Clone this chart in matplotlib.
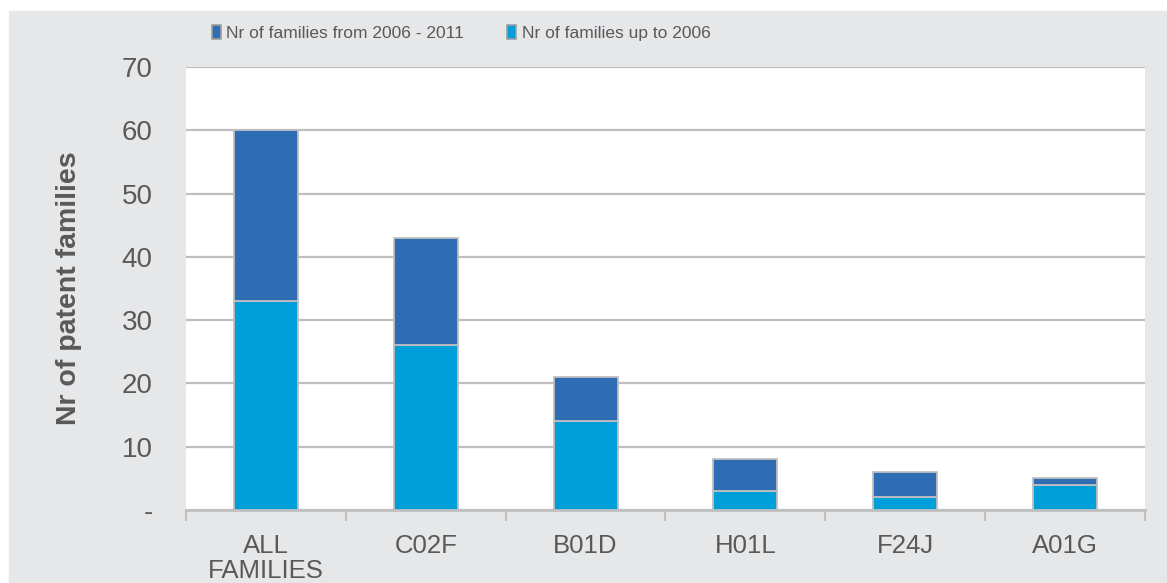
import matplotlib
matplotlib.use("Agg")
import matplotlib.pyplot as plt
import numpy as np
from matplotlib.patches import Rectangle

plt.rcParams["font.family"] = ["Liberation Sans", "DejaVu Sans"]

categories = ["ALL\nFAMILIES", "C02F", "B01D", "H01L", "F24J", "A01G"]
up_to_2006 = [33, 26, 14, 3, 2, 4]
from_2006_2011 = [27, 17, 7, 5, 4, 1]
y_ticks = [0, 10, 20, 30, 40, 50, 60, 70]
y_labels = ["-", "10", "20", "30", "40", "50", "60", "70"]

DARK = "#2E6DB4"
CYAN = "#009FDA"
GRID = "#BFBFBF"
PANEL = "#E6E7E9"
TXT = "#595959"

W, H = 1167, 583
fig = plt.figure(figsize=(W / 100, H / 100), dpi=100)
fig.patch.set_facecolor("white")
fig.add_artist(Rectangle((9 / W, 0), 1 - 9 / W, 1 - 11 / H,
                         transform=fig.transFigure, color=PANEL, zorder=0))

ax = fig.add_axes([186 / W, (H - 510) / H, (1145 - 186) / W, (510 - 67) / H])
ax.set_facecolor("white")

x = np.arange(len(categories))
ax.bar(x, up_to_2006, width=0.4, color=CYAN, edgecolor=GRID, linewidth=1.3,
       zorder=3)
ax.bar(x, from_2006_2011, width=0.4, bottom=up_to_2006, color=DARK,
       edgecolor=GRID, linewidth=1.3, zorder=3)

ax.set_xlim(-0.5, len(categories) - 0.5)
ax.set_ylim(0, 70)
ax.set_yticks(y_ticks)
ax.set_yticklabels(y_labels)
ax.yaxis.grid(True, color=GRID, linewidth=1.6, zorder=1)
ax.set_axisbelow(True)
for side in ["left", "right", "top"]:
    ax.spines[side].set_visible(False)
ax.spines["bottom"].set_color(GRID)
ax.spines["bottom"].set_linewidth(2)
ax.tick_params(axis="y", length=0, pad=24, labelsize=20, labelcolor=TXT)

ax.set_xticks(x)
ax.set_xticklabels(categories, linespacing=1.05)
ax.set_xticks(np.arange(-0.5, len(categories)), minor=True)
ax.tick_params(axis="x", which="major", length=0, pad=17, labelsize=18.5,
               labelcolor=TXT)
ax.tick_params(axis="x", which="minor", length=8, width=1.5, color=GRID,
               direction="out")

ax.set_ylabel("Nr of patent families", fontsize=20.5, fontweight="bold",
              color=TXT)
ax.yaxis.set_label_coords(-0.108, 0.5)

handles = [Rectangle((0, 0), 1, 1, facecolor=DARK, edgecolor="#A0A0A0", lw=1.2),
           Rectangle((0, 0), 1, 1, facecolor=CYAN, edgecolor="#A0A0A0", lw=1.2)]
fig.legend(handles, ["Nr of families from 2006 - 2011", "Nr of families up to 2006"],
           loc="center", bbox_to_anchor=(461 / W, 1 - 33 / H), ncol=2,
           frameon=False, handlelength=0.52, handleheight=0.86,
           handletextpad=0.3, columnspacing=2.5,
           prop={"family": "Liberation Sans", "size": 12.5},
           labelcolor=TXT)

fig.savefig("out.png", dpi=100)
